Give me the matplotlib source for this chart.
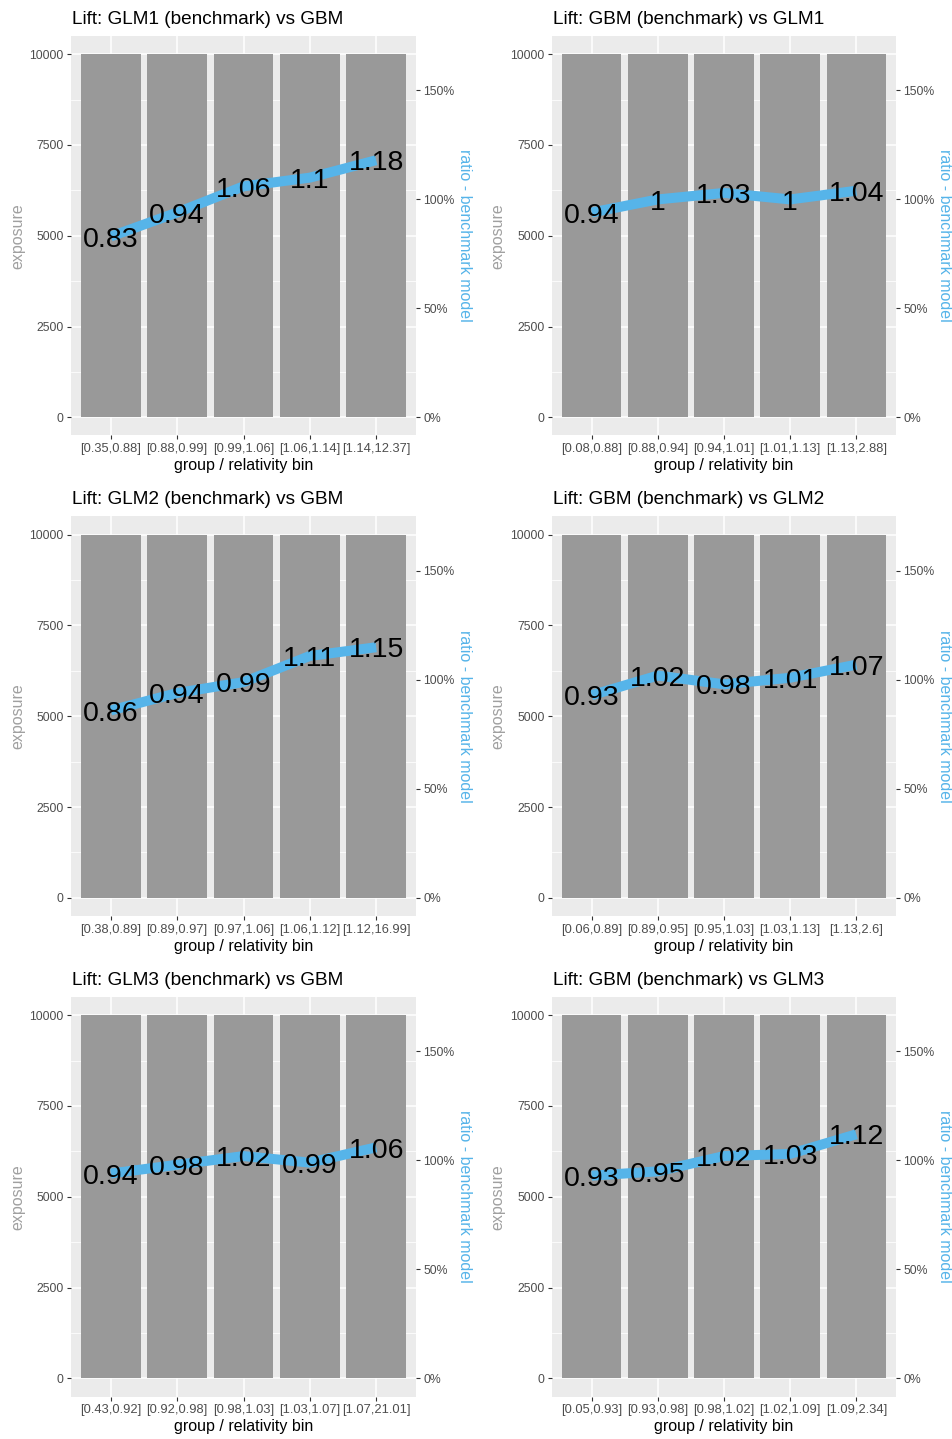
import matplotlib
matplotlib.use("Agg")
import matplotlib.pyplot as plt
from matplotlib.ticker import FixedLocator
from matplotlib.transforms import offset_copy

plt.rcParams["font.family"] = ["Liberation Sans", "DejaVu Sans"]

# ---- data -------------------------------------------------------------
titles = [
    "Lift: GLM1 (benchmark) vs GBM",
    "Lift: GBM (benchmark) vs GLM1",
    "Lift: GLM2 (benchmark) vs GBM",
    "Lift: GBM (benchmark) vs GLM2",
    "Lift: GLM3 (benchmark) vs GBM",
    "Lift: GBM (benchmark) vs GLM3",
]

bins_glm1 = ["[0.35,0.88]", "[0.88,0.99]", "[0.99,1.06]", "[1.06,1.14]", "[1.14,12.37]"]
bins_gbm1 = ["[0.08,0.88]", "[0.88,0.94]", "[0.94,1.01]", "[1.01,1.13]", "[1.13,2.88]"]
bins_glm2 = ["[0.38,0.89]", "[0.89,0.97]", "[0.97,1.06]", "[1.06,1.12]", "[1.12,16.99]"]
bins_gbm2 = ["[0.06,0.89]", "[0.89,0.95]", "[0.95,1.03]", "[1.03,1.13]", "[1.13,2.6]"]
bins_glm3 = ["[0.43,0.92]", "[0.92,0.98]", "[0.98,1.03]", "[1.03,1.07]", "[1.07,21.01]"]
bins_gbm3 = ["[0.05,0.93]", "[0.93,0.98]", "[0.98,1.02]", "[1.02,1.09]", "[1.09,2.34]"]

ratio_glm1 = [0.83, 0.94, 1.06, 1.1, 1.18]
ratio_gbm1 = [0.94, 1, 1.03, 1, 1.04]
ratio_glm2 = [0.86, 0.94, 0.99, 1.11, 1.15]
ratio_gbm2 = [0.93, 1.02, 0.98, 1.01, 1.07]
ratio_glm3 = [0.94, 0.98, 1.02, 0.99, 1.06]
ratio_gbm3 = [0.93, 0.95, 1.02, 1.03, 1.12]

exposure = [10000, 10000, 10000, 10000, 10000]

panels = [
    (titles[0], bins_glm1, ratio_glm1),
    (titles[1], bins_gbm1, ratio_gbm1),
    (titles[2], bins_glm2, ratio_glm2),
    (titles[3], bins_gbm2, ratio_gbm2),
    (titles[4], bins_glm3, ratio_glm3),
    (titles[5], bins_gbm3, ratio_gbm3),
]

# ---- style ------------------------------------------------------------
W, H = 952, 1439
PANEL_BG = "#EBEBEB"
BAR = "#999999"
LINE = "#56B4E9"
TICK_TXT = "#4D4D4D"
SCALE = 6000.0          # exposure units per unit of ratio on the secondary axis
YLIM = (-500, 10500)
LABEL_SIZE = 20.5

col_x = [(71, 416), (552, 896)]
row_y = [(36, 435.5), (516.5, 916), (997, 1396.5)]

fig = plt.figure(figsize=(W / 100, H / 100), dpi=100)

for i, (title, bins, ratios) in enumerate(panels):
    r, c = divmod(i, 2)
    x0, x1 = col_x[c]
    y0, y1 = row_y[r]
    pw, ph = x1 - x0, y1 - y0
    ax = fig.add_axes([x0 / W, 1 - y1 / H, pw / W, ph / H])
    ax.set_facecolor(PANEL_BG)
    for s in ax.spines.values():
        s.set_visible(False)

    pos = list(range(1, len(bins) + 1))
    ax.bar(pos, exposure, width=0.9, color=BAR, zorder=2)
    ax.set_xlim(0.4, len(bins) + 0.6)
    ax.set_ylim(*YLIM)

    ax.set_xticks(pos)
    ax.set_xticklabels(bins)
    ax.set_yticks([0, 2500, 5000, 7500, 10000])
    ax.set_yticklabels(["0", "2500", "5000", "7500", "10000"])
    ax.yaxis.set_minor_locator(FixedLocator([1250, 3750, 6250, 8750]))
    ax.set_axisbelow(True)
    ax.grid(True, which="major", color="white", linewidth=1.1)
    ax.grid(True, which="minor", axis="y", color="white", linewidth=0.55)
    ax.tick_params(which="minor", length=0)
    ax.tick_params(which="major", length=3.2, width=0.8, color="#333333",
                   labelcolor=TICK_TXT, labelsize=8.8, pad=2)
    ax.tick_params(axis="x", labelsize=9.3, pad=2.5)

    # axis titles and panel title
    ax.text(0.5, -30.5 / ph, "group / relativity bin", transform=ax.transAxes,
            fontsize=11.5, color="black", ha="center", va="center")
    ax.text(-(x0 - (18 + 480 * c)) / pw, 0.5, "exposure", transform=ax.transAxes,
            fontsize=11.5, color="#A0A0A0", ha="center", va="center", rotation=90)
    ax.text(1 / pw, 1 + 12 / ph, title, transform=ax.transAxes,
            fontsize=13.7, ha="left", va="baseline")

    # secondary axis: ratio to benchmark model
    ax2 = ax.twinx()
    for s in ax2.spines.values():
        s.set_visible(False)
    ax2.set_ylim(YLIM[0] / SCALE, YLIM[1] / SCALE)
    ax2.set_yticks([0, 0.5, 1.0, 1.5])
    ax2.set_yticklabels(["0%", "50%", "100%", "150%"])
    ax2.tick_params(length=3.2, width=0.8, color="#333333",
                    labelcolor=TICK_TXT, labelsize=8.8, pad=2)
    ax2.text((464 + 480 * c - x0) / pw, 0.5, "ratio - benchmark model",
             transform=ax2.transAxes, fontsize=11.5, color=LINE,
             ha="center", va="center", rotation=-90)

    ax2.plot(pos, ratios, color=LINE, linewidth=7.2, solid_capstyle="butt",
             solid_joinstyle="round", zorder=3)
    # value labels: digit glyphs centred vertically on each point
    lbl_tr = offset_copy(ax2.transData, fig=fig, y=-0.358 * LABEL_SIZE, units="points")
    for p, v in zip(pos, ratios):
        ax2.text(p, v, f"{v:g}", fontsize=LABEL_SIZE, ha="center", va="baseline",
                 color="black", zorder=4, transform=lbl_tr)

fig.savefig("out.png", dpi=100, facecolor="white")
